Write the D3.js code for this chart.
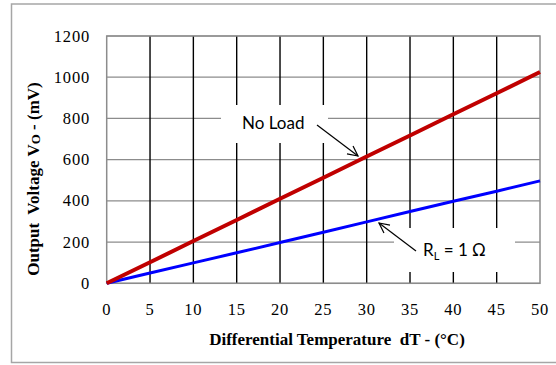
<!DOCTYPE html>
<html>
<head>
<meta charset="utf-8">
<script src="https://cdn.jsdelivr.net/npm/d3@7"></script>
<style>
  body { margin: 0; background: #fff; }
  svg { display: block; }
  .tickLabel { font-family: "Liberation Serif", serif; font-size: 16.5px; letter-spacing: 0.8px; fill: #000; }
  .axisTitle { font-family: "Liberation Serif", serif; font-size: 17px; font-weight: bold; fill: #000; }
  .note { font-family: Lato, "Open Sans", sans-serif; font-size: 17px; fill: #000; }
</style>
</head>
<body>
<div id="chart"></div>
<script>
const WIDTH = 556;
const HEIGHT = 365;

// data
const dT = [0, 5, 10, 15, 20, 25, 30, 35, 40, 45, 50];
const noLoad = [0, 102, 205, 307, 410, 512, 615, 717, 820, 922, 1025];
const rl1 = [0, 50, 99, 148, 198, 248, 298, 348, 398, 447, 497];
const xTicks = [0, 5, 10, 15, 20, 25, 30, 35, 40, 45, 50];
const yTicks = [0, 200, 400, 600, 800, 1000, 1200];

const plot = { left: 106.7, right: 540, top: 36, bottom: 283.3 };

let x = d3.scaleLinear().domain([0, 50]).range([plot.left, plot.right]);
let y = d3.scaleLinear().domain([0, 1200]).range([plot.bottom, plot.top]);

let svg = d3.select("#chart").append("svg")
    .attr("width", WIDTH)
    .attr("height", HEIGHT);

// outer frame
svg.append("rect")
    .attr("x", 11.5).attr("y", 4)
    .attr("width", 560).attr("height", 358.5)
    .attr("fill", "none").attr("stroke", "#a6a6a6").attr("stroke-width", 1.5);

// horizontal grid (gray)
svg.append("g").selectAll("line").data(yTicks).join("line")
    .attr("x1", plot.left).attr("x2", plot.right)
    .attr("y1", d => y(d)).attr("y2", d => y(d))
    .attr("stroke", "#8c8c8c").attr("stroke-width", 1.2);

// vertical grid (black)
svg.append("g").selectAll("line").data(xTicks.slice(1, -1)).join("line")
    .attr("x1", d => x(d)).attr("x2", d => x(d))
    .attr("y1", plot.top).attr("y2", plot.bottom)
    .attr("stroke", "#000").attr("stroke-width", 1.4);

// plot border
svg.append("rect")
    .attr("x", plot.left).attr("y", plot.top)
    .attr("width", plot.right - plot.left).attr("height", plot.bottom - plot.top)
    .attr("fill", "none").attr("stroke", "#8c8c8c").attr("stroke-width", 1.5);

// label boxes knock out the grid
svg.append("rect").attr("x", 221).attr("y", 105).attr("width", 107).attr("height", 38).attr("fill", "#fff");
svg.append("rect").attr("x", 394).attr("y", 228).attr("width", 121).attr("height", 44).attr("fill", "#fff");

// tick labels
svg.append("g").selectAll("text").data(yTicks).join("text")
    .attr("class", "tickLabel")
    .attr("x", 90).attr("y", d => y(d) + 5.5)
    .attr("text-anchor", "end")
    .text(d => d);

svg.append("g").selectAll("text").data(xTicks).join("text")
    .attr("class", "tickLabel")
    .attr("x", d => x(d)).attr("y", 315)
    .attr("text-anchor", "middle")
    .text(d => d);

// axis titles
svg.append("text")
    .attr("class", "axisTitle")
    .attr("x", 337).attr("y", 345)
    .attr("text-anchor", "middle")
    .attr("xml:space", "preserve")
    .text("Differential Temperature  dT - (\u00B0C)");

let yTitle = svg.append("text")
    .attr("class", "axisTitle")
    .attr("transform", "translate(39,179) rotate(-90)")
    .attr("text-anchor", "middle")
    .attr("xml:space", "preserve");
yTitle.append("tspan").text("Output  Voltage V");
yTitle.append("tspan").attr("font-size", "13px").attr("dy", 1).text("O");
yTitle.append("tspan").attr("dy", -1).text(" - (mV)");

// series
let line = d3.line().x((d, i) => x(dT[i])).y(d => y(d));

svg.append("path").datum(rl1)
    .attr("d", line)
    .attr("fill", "none").attr("stroke", "#0000ff").attr("stroke-width", 3);

svg.append("path").datum(noLoad)
    .attr("d", line)
    .attr("fill", "none").attr("stroke", "#c00000").attr("stroke-width", 4);

// annotations
svg.append("defs").append("marker")
    .attr("id", "openArrow")
    .attr("viewBox", "0 0 12 12")
    .attr("refX", 11).attr("refY", 6)
    .attr("markerWidth", 12).attr("markerHeight", 12)
    .attr("markerUnits", "userSpaceOnUse")
    .attr("orient", "auto")
    .append("path")
    .attr("d", "M1,1 L11,6 L1,11")
    .attr("fill", "none").attr("stroke", "#000").attr("stroke-width", 1.2);

svg.append("text").attr("class", "note")
    .attr("x", 242).attr("y", 129)
    .text("No Load");

svg.append("line")
    .attr("x1", 317).attr("y1", 125).attr("x2", 358).attr("y2", 156)
    .attr("stroke", "#000").attr("stroke-width", 1.2)
    .attr("marker-end", "url(#openArrow)");

let rlText = svg.append("text").attr("class", "note")
    .attr("x", 423).attr("y", 256);
rlText.append("tspan").text("R");
rlText.append("tspan").attr("font-size", "11px").attr("dy", 4).text("L");
rlText.append("tspan").attr("dy", -4).text(" = 1 \u03A9");

svg.append("line")
    .attr("x1", 416).attr("y1", 251).attr("x2", 379).attr("y2", 223)
    .attr("stroke", "#000").attr("stroke-width", 1.2)
    .attr("marker-end", "url(#openArrow)");
</script>
</body>
</html>
